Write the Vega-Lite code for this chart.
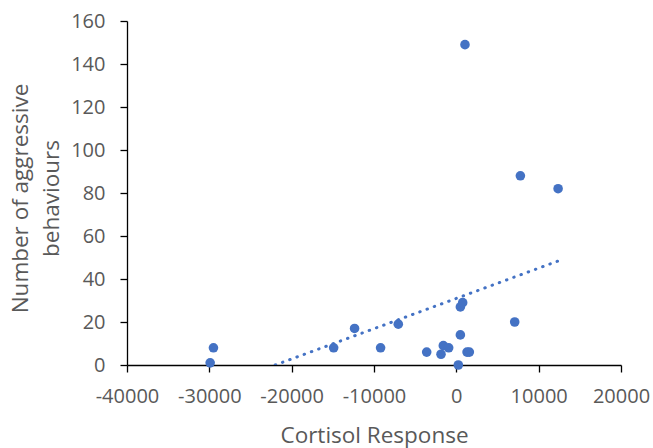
{
  "$schema": "https://vega.github.io/schema/vega-lite/v6.json",
  "width": 494,
  "height": 344,
  "autosize": "none",
  "padding": {"left": 127, "top": 21, "right": 32, "bottom": 83},
  "background": "white",
  "config": {
    "view": {"stroke": null},
    "font": "Open Sans",
    "axis": {
      "grid": false,
      "domainColor": "#000000",
      "domainWidth": 1.3,
      "tickColor": "#000000",
      "tickWidth": 1.3,
      "tickSize": 7,
      "labelColor": "#595959",
      "labelFontSize": 20,
      "labelFont": "Open Sans",
      "labelOverlap": false,
      "labelFlush": false,
      "labelBound": false,
      "titleColor": "#595959",
      "titleFontSize": 22.5,
      "titleFont": "Open Sans",
      "titleFontWeight": "normal"
    }
  },
  "data": {
    "values": [
      {"cortisol": -29900, "aggr": 1},
      {"cortisol": -29500, "aggr": 8},
      {"cortisol": -14900, "aggr": 8},
      {"cortisol": -12360, "aggr": 17},
      {"cortisol": -9200, "aggr": 8},
      {"cortisol": -7050, "aggr": 19},
      {"cortisol": -3600, "aggr": 6},
      {"cortisol": -1860, "aggr": 5},
      {"cortisol": -1580, "aggr": 9},
      {"cortisol": -930, "aggr": 8},
      {"cortisol": 240, "aggr": 0},
      {"cortisol": 490, "aggr": 14},
      {"cortisol": 490, "aggr": 27},
      {"cortisol": 770, "aggr": 29},
      {"cortisol": 1300, "aggr": 6},
      {"cortisol": 1580, "aggr": 6},
      {"cortisol": 7090, "aggr": 20},
      {"cortisol": 1050, "aggr": 149},
      {"cortisol": 7780, "aggr": 88},
      {"cortisol": 12360, "aggr": 82}
    ]
  },
  "encoding": {
    "x": {
      "field": "cortisol",
      "type": "quantitative",
      "scale": {"domain": [-40000, 20000], "nice": false, "zero": false},
      "axis": {
        "values": [-40000, -30000, -20000, -10000, 0, 10000, 20000],
        "labelExpr": "'' + datum.value",
        "labelPadding": 14,
        "title": "Cortisol Response",
        "titleBaseline": "alphabetic",
        "titleY": 77
      }
    },
    "y": {
      "field": "aggr",
      "type": "quantitative",
      "scale": {"domain": [0, 160], "nice": false},
      "axis": {
        "values": [0, 20, 40, 60, 80, 100, 120, 140, 160],
        "labelExpr": "'' + datum.value",
        "labelPadding": 15,
        "title": ["Number of aggressive", "behaviours"],
        "titleLineHeight": 31,
        "titleBaseline": "alphabetic",
        "titleX": -100,
        "titleY": 177
      }
    }
  },
  "layer": [
    {
      "transform": [
        {"regression": "aggr", "on": "cortisol", "extent": [-29900, 12360]}
      ],
      "mark": {
        "type": "line",
        "clip": true,
        "color": "#4472C4",
        "strokeWidth": 3,
        "strokeDash": [0.5, 7.2],
        "strokeCap": "round"
      }
    },
    {
      "mark": {"type": "circle", "size": 92, "color": "#4472C4", "opacity": 1}
    }
  ]
}
